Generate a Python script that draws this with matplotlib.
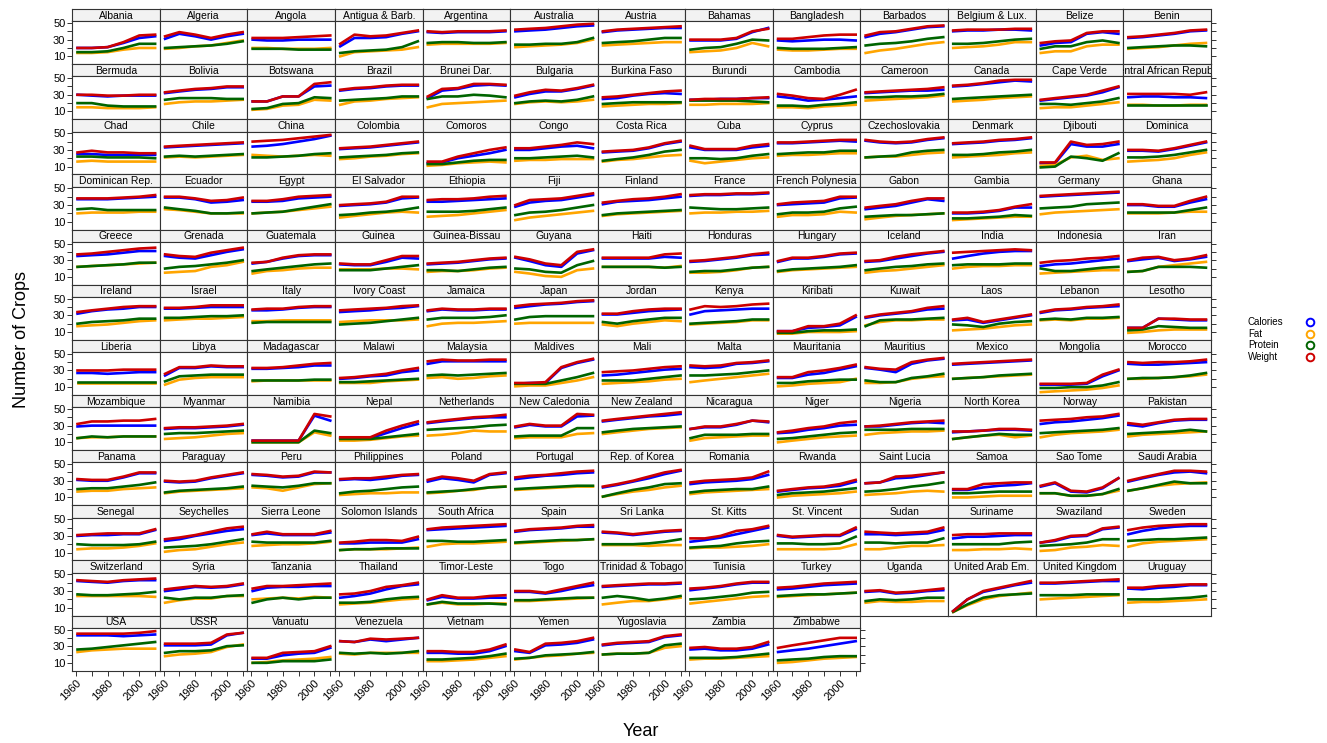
import matplotlib
matplotlib.use("Agg")
import matplotlib.pyplot as plt
from matplotlib.lines import Line2D

plt.rcParams['font.family'] = ['Liberation Sans', 'DejaVu Sans']

YEARS = [1961, 1970, 1980, 1990, 2000, 2010]

COUNTRIES = [
    "Albania", "Algeria", "Angola", "Antigua & Barb.", "Argentina", "Australia", "Austria",
    "Bahamas", "Bangladesh", "Barbados", "Belgium & Lux.", "Belize", "Benin",
    "Bermuda", "Bolivia", "Botswana", "Brazil", "Brunei Dar.", "Bulgaria", "Burkina Faso",
    "Burundi", "Cambodia", "Cameroon", "Canada", "Cape Verde", "Central African Republic",
    "Chad", "Chile", "China", "Colombia", "Comoros", "Congo", "Costa Rica", "Cuba", "Cyprus",
    "Czechoslovakia", "Denmark", "Djibouti", "Dominica",
    "Dominican Rep.", "Ecuador", "Egypt", "El Salvador", "Ethiopia", "Fiji", "Finland", "France",
    "French Polynesia", "Gabon", "Gambia", "Germany", "Ghana",
    "Greece", "Grenada", "Guatemala", "Guinea", "Guinea-Bissau", "Guyana", "Haiti", "Honduras",
    "Hungary", "Iceland", "India", "Indonesia", "Iran",
    "Ireland", "Israel", "Italy", "Ivory Coast", "Jamaica", "Japan", "Jordan", "Kenya", "Kiribati",
    "Kuwait", "Laos", "Lebanon", "Lesotho",
    "Liberia", "Libya", "Madagascar", "Malawi", "Malaysia", "Maldives", "Mali", "Malta",
    "Mauritania", "Mauritius", "Mexico", "Mongolia", "Morocco",
    "Mozambique", "Myanmar", "Namibia", "Nepal", "Netherlands", "New Caledonia", "New Zealand",
    "Nicaragua", "Niger", "Nigeria", "North Korea", "Norway", "Pakistan",
    "Panama", "Paraguay", "Peru", "Philippines", "Poland", "Portugal", "Rep. of Korea", "Romania",
    "Rwanda", "Saint Lucia", "Samoa", "Sao Tome", "Saudi Arabia",
    "Senegal", "Seychelles", "Sierra Leone", "Solomon Islands", "South Africa", "Spain",
    "Sri Lanka", "St. Kitts", "St. Vincent", "Sudan", "Suriname", "Swaziland", "Sweden",
    "Switzerland", "Syria", "Tanzania", "Thailand", "Timor-Leste", "Togo", "Trinidad & Tobago",
    "Tunisia", "Turkey", "Uganda", "United Arab Em.", "United Kingdom", "Uruguay",
    "USA", "USSR", "Vanuatu", "Venezuela", "Vietnam", "Yemen", "Yugoslavia", "Zambia", "Zimbabwe",
]

CALORIES = [
    [20,20,21,26,32,34], [31,37,34,30,34,37], [30,29,29,30,30,30], [22,32,32,33,37,40],
    [39,38,39,39,39,40], [40,41,42,44,46,47], [39,41,42,43,44,44], [29,29,29,31,39,44],
    [29,28,29,30,30,29], [33,37,39,42,45,46], [40,41,41,42,42,41], [23,26,27,37,39,37],
    [32,33,35,37,40,41],
    [30,29,28,29,29,29], [32,34,36,37,39,39], [22,22,28,28,40,41], [35,37,38,40,41,41],
    [26,35,37,41,42,41], [27,31,34,34,37,41], [25,26,29,31,32,31], [24,24,25,25,26,26],
    [28,26,23,24,26,28], [32,33,34,35,35,36], [40,41,43,45,47,46], [23,25,27,29,33,39],
    [27,28,28,27,27,26],
    [25,25,24,24,24,24], [33,34,35,36,37,38], [34,35,37,40,43,47], [31,32,33,35,37,39],
    [14,15,20,23,26,30], [30,30,32,34,35,32], [27,28,29,32,37,40], [33,30,30,30,33,35],
    [38,38,39,40,41,40], [41,39,38,39,42,44], [37,38,39,41,42,44], [14,14,37,34,34,37],
    [29,29,28,31,35,39],
    [37,37,37,38,39,40], [39,39,37,33,34,36], [34,34,35,38,39,40], [29,30,31,33,38,39],
    [34,34,35,36,37,38], [28,33,35,36,39,42], [31,34,35,36,38,40], [41,42,42,43,43,44],
    [30,31,32,33,38,39], [25,27,29,33,37,35], [20,20,21,23,27,27], [40,41,42,43,44,45],
    [30,30,28,28,33,37],
    [35,36,37,39,41,41], [35,33,32,36,40,43], [26,28,32,35,36,36], [25,24,24,28,33,32],
    [25,26,27,29,31,32], [33,29,24,22,38,42], [32,32,32,32,34,33], [28,29,31,33,36,37],
    [28,32,32,34,37,38], [28,29,32,35,38,40], [32,35,38,40,41,41], [23,25,26,28,30,32],
    [29,31,33,29,31,34],
    [32,35,37,38,40,40], [38,38,39,40,40,40], [36,36,37,39,40,40], [34,35,36,38,39,41],
    [35,37,36,36,37,37], [39,41,43,44,46,47], [31,31,33,35,36,37], [31,35,36,37,38,38],
    [11,11,15,16,18,28], [27,30,32,34,37,38], [24,25,21,24,27,30], [33,36,37,39,40,41],
    [15,15,26,25,24,24],
    [27,27,26,27,28,28], [24,33,33,35,34,34], [32,32,33,34,36,36], [20,21,23,24,28,30],
    [38,41,41,41,41,41], [14,15,15,33,39,43], [24,25,27,29,31,32], [34,33,34,38,39,41],
    [21,21,25,27,31,35], [33,31,28,38,42,44], [37,38,39,40,41,42], [13,13,13,14,23,30],
    [38,37,37,38,39,40],
    [29,30,30,30,30,30], [26,27,27,28,29,31], [12,12,12,12,42,36], [15,15,15,21,27,32],
    [33,35,37,39,40,40], [28,31,29,29,41,42], [35,37,39,41,42,44], [26,28,28,31,36,34],
    [21,22,25,27,30,31], [29,29,31,33,34,33], [22,23,24,25,25,24], [32,34,35,37,39,42],
    [31,29,33,36,37,37],
    [31,30,30,34,39,39], [29,28,29,33,36,39], [37,36,34,35,40,40], [31,32,31,33,36,37],
    [29,33,31,28,37,39], [32,34,36,37,39,40], [22,25,29,33,38,42], [26,28,29,30,32,37],
    [17,19,21,22,24,29], [27,28,33,34,37,40], [19,19,22,24,25,27], [23,27,17,16,21,33],
    [29,33,37,40,41,39],
    [30,31,31,32,32,37], [24,26,30,33,36,38], [31,33,31,31,31,34], [21,21,22,22,22,26],
    [37,38,39,40,41,42], [35,37,38,39,41,41], [34,33,31,33,35,36], [23,25,28,32,36,40],
    [30,28,29,30,30,38], [32,32,31,32,33,37], [27,29,29,30,31,31], [22,24,29,30,38,40],
    [32,36,39,41,42,42],
    [42,41,40,42,43,43], [30,32,35,34,35,38], [30,34,35,35,36,36], [22,24,27,32,36,38],
    [19,23,21,21,22,22], [29,29,27,30,34,37], [35,36,37,38,38,39], [31,33,35,38,40,40],
    [32,33,35,37,38,39], [29,30,27,28,30,31], [6,20,29,33,37,40], [39,39,40,41,42,42],
    [33,32,34,35,37,37],
    [43,43,43,42,43,44], [31,31,31,32,43,46], [15,15,19,21,22,28], [36,35,38,36,38,40],
    [22,22,21,21,24,30], [24,22,31,32,34,38], [31,33,34,35,41,43], [26,27,25,25,27,32],
    [23,25,27,30,33,36],
]

FAT = [
    [14,14,15,18,20,20], [19,20,22,23,26,29], [20,20,19,19,19,20], [10,15,16,17,18,21],
    [24,25,25,25,25,26], [21,22,23,24,26,30], [23,24,25,26,27,27], [15,16,17,20,26,22],
    [18,17,17,18,19,19], [14,17,19,22,25,27], [20,21,22,24,27,27], [14,16,16,22,24,24],
    [19,20,21,23,25,26],
    [15,15,14,14,14,15], [19,21,22,22,23,24], [12,13,17,18,24,23], [18,22,23,25,26,27],
    [15,19,20,21,22,23], [19,21,22,21,22,24], [16,17,18,19,19,20], [18,18,19,19,19,20],
    [15,15,14,16,17,18], [23,24,25,26,27,29], [22,23,24,26,27,28], [14,15,15,17,19,21],
    [18,18,17,17,18,18],
    [16,17,16,16,16,16], [21,22,21,22,23,24], [24,23,22,23,24,23], [19,20,22,23,25,26],
    [11,12,14,15,16,15], [17,18,18,19,19,19], [16,18,19,21,23,24], [17,14,16,18,20,21],
    [23,24,24,25,26,26], [21,22,22,24,26,27], [21,22,23,24,26,27], [11,12,21,23,18,20],
    [16,17,18,20,24,27],
    [20,21,21,21,22,22], [25,24,22,20,20,20], [20,21,22,24,26,28], [15,17,19,21,22,21],
    [16,17,18,20,22,24], [12,15,17,19,21,23], [17,19,20,21,22,23], [20,21,21,22,22,23],
    [16,18,18,19,22,21], [13,15,17,18,19,20], [12,13,14,15,16,16], [19,21,22,23,24,25],
    [20,20,20,21,22,22],
    [22,23,24,25,26,27], [15,16,17,22,24,28], [14,17,18,20,21,21], [19,19,19,20,20,19],
    [16,17,17,18,20,21], [16,14,11,10,18,20], [22,22,22,22,21,23], [15,15,16,18,21,22],
    [16,18,19,20,21,22], [15,17,18,20,22,24], [20,22,23,23,24,24], [14,15,16,17,18,18],
    [16,17,22,24,26,28],
    [17,18,19,21,23,24], [24,25,26,26,27,28], [23,23,24,24,24,24], [22,23,24,24,24,25],
    [17,20,21,21,22,23], [20,21,21,21,21,21], [19,17,20,22,24,23], [19,20,21,22,24,24],
    [8,8,10,10,10,11], [18,22,24,24,25,25], [12,13,14,16,18,19], [24,25,24,26,26,27],
    [9,10,12,13,13,13],
    [15,15,15,15,15,15], [13,19,21,22,22,22], [17,18,18,18,18,18], [15,15,15,17,18,19],
    [21,22,20,21,23,24], [11,12,12,15,18,22], [14,15,16,17,19,20], [16,18,20,22,24,26],
    [11,12,14,15,16,20], [15,15,16,20,22,23], [20,21,22,23,24,25], [4,5,6,7,9,12],
    [20,20,21,22,23,25],
    [15,16,16,17,17,17], [14,15,16,18,20,21], [10,10,10,10,22,18], [12,12,13,15,17,18],
    [18,19,21,24,23,23], [15,16,16,16,20,21], [20,22,24,26,27,28], [12,15,16,17,18,18],
    [10,12,14,16,17,18], [19,21,22,23,23,24], [14,16,18,19,16,18], [16,19,21,22,23,25],
    [17,19,20,21,22,23],
    [17,18,18,20,21,22], [15,17,18,19,20,21], [22,21,18,22,26,27], [13,14,15,15,16,16],
    [15,16,18,19,22,23], [19,20,21,22,23,23], [11,14,17,19,22,24], [14,16,17,18,19,20],
    [10,12,13,14,15,17], [13,14,15,17,18,17], [10,10,11,12,12,12], [15,15,12,12,14,18],
    [18,21,24,26,27,28],
    [14,15,15,16,18,21], [11,13,14,17,20,22], [18,19,20,20,21,23], [13,14,14,14,15,16],
    [17,20,21,21,22,23], [21,22,23,24,25,26], [19,19,19,18,19,19], [15,16,16,17,18,20],
    [14,14,14,14,15,20], [14,14,16,18,18,19], [13,13,14,14,15,14], [12,13,16,17,19,18],
    [17,21,23,24,25,26],
    [24,24,24,24,24,23], [16,19,21,21,24,24], [20,21,22,21,23,22], [14,15,16,18,20,21],
    [14,16,14,14,15,15], [18,18,19,20,21,22], [14,16,18,18,20,22], [15,17,19,21,23,24],
    [23,24,25,26,27,28], [16,18,17,17,18,18], [5,13,20,24,26,28], [20,21,22,23,24,25],
    [16,17,17,18,19,20],
    [23,25,26,27,27,27], [18,20,21,23,29,32], [10,11,13,14,15,17], [21,20,22,22,22,22],
    [12,12,13,14,16,18], [14,16,18,19,21,22], [20,21,21,22,28,30], [14,15,15,16,17,18],
    [10,11,13,15,16,17],
]

PROTEIN = [
    [15,15,16,20,25,25], [20,21,22,23,25,28], [19,19,19,18,18,18], [14,16,17,18,21,28],
    [26,27,27,26,26,27], [24,24,25,25,27,32], [26,27,28,30,32,32], [18,20,21,25,30,29],
    [20,19,19,19,20,21], [23,25,26,28,31,33], [25,25,26,28,30,31], [19,22,22,27,29,26],
    [20,21,22,23,23,22],
    [20,20,17,16,16,16], [24,26,26,26,25,25], [13,14,19,20,27,26], [23,24,25,26,28,28],
    [25,28,28,30,29,27], [20,22,23,22,24,28], [19,20,21,21,21,21], [23,23,23,23,22,21],
    [17,17,16,18,19,21], [27,27,28,28,29,31], [25,26,27,28,29,30], [19,19,18,20,22,26],
    [18,18,18,18,18,18],
    [22,22,21,21,21,20], [22,23,22,23,24,25], [21,21,22,23,25,26], [21,22,23,24,26,27],
    [13,13,15,17,18,18], [20,20,21,22,23,21], [17,19,21,24,28,30], [20,20,19,20,23,25],
    [25,26,27,27,29,29], [21,22,23,27,29,30], [24,24,25,27,28,30], [9,10,22,20,17,26],
    [21,21,22,24,27,30],
    [25,26,24,24,24,24], [27,25,23,20,20,21], [20,21,22,25,28,31], [18,19,21,22,24,27],
    [22,22,22,23,25,27], [18,21,22,24,27,30], [18,20,21,22,23,24], [27,26,25,25,26,27],
    [19,21,21,22,26,28], [16,17,18,18,19,20], [14,14,15,16,18,17], [26,27,28,31,32,33],
    [21,21,21,21,24,27],
    [22,23,24,25,27,27], [20,22,23,25,27,30], [17,19,21,23,25,26], [18,18,18,20,22,24],
    [18,18,17,19,21,22], [20,19,16,15,24,29], [22,22,22,22,21,22], [16,17,17,19,21,22],
    [17,19,20,21,22,24], [18,20,22,23,25,26], [24,25,25,25,26,26], [20,17,17,19,21,22],
    [16,17,22,22,22,21],
    [20,22,23,24,26,26], [27,27,28,29,29,30], [21,22,22,22,22,22], [19,20,21,23,25,27],
    [25,27,27,27,28,30], [25,28,29,29,29,29], [22,20,23,25,27,27], [20,21,22,23,25,25],
    [9,9,11,12,12,13], [17,24,25,25,26,27], [19,18,16,20,22,23], [25,26,25,27,27,28],
    [12,13,17,16,15,15],
    [16,16,16,16,16,16], [17,23,24,25,25,25], [18,18,18,18,19,19], [16,16,17,18,19,20],
    [24,25,24,25,26,27], [14,14,14,18,22,27], [18,18,18,20,22,24], [24,24,25,26,28,30],
    [15,15,17,18,19,19], [18,16,16,21,23,26], [20,21,22,24,25,26], [9,9,10,10,12,16],
    [20,21,21,22,24,27],
    [15,17,16,17,17,17], [20,21,21,22,23,24], [10,10,10,10,24,21], [14,14,14,16,18,20],
    [25,26,27,28,30,31], [17,18,18,18,27,27], [22,24,26,27,28,29], [15,19,19,19,20,20],
    [14,15,17,19,21,22], [25,25,25,26,26,26], [14,16,18,20,19,19], [21,22,23,24,25,27],
    [20,21,22,23,25,23],
    [20,21,21,23,25,28], [16,18,19,20,21,23], [24,23,22,24,27,27], [15,17,18,20,22,23],
    [16,17,18,20,22,23], [20,21,22,23,24,24], [11,15,19,22,26,27], [16,18,19,20,20,23],
    [13,15,16,17,19,21], [17,18,20,23,25,28], [15,15,16,17,17,17], [15,15,12,12,14,20],
    [18,21,25,29,27,27],
    [20,19,19,19,20,23], [16,17,18,20,23,26], [23,22,22,22,22,24], [13,14,14,15,15,15],
    [24,24,23,23,24,25], [22,23,24,25,25,26], [20,20,20,21,23,26], [16,17,18,21,23,24],
    [21,21,20,20,21,29], [22,22,21,22,22,27], [20,20,20,20,22,23], [18,19,20,22,26,26],
    [24,25,26,26,27,28],
    [26,25,25,26,27,29], [22,20,22,22,24,25], [16,20,22,20,22,22], [16,16,17,20,22,23],
    [14,17,15,15,15,14], [19,19,20,21,22,22], [22,24,22,19,21,24], [20,21,23,25,28,29],
    [24,25,26,26,27,28], [18,20,19,20,22,22], [5,14,22,25,26,27], [25,25,25,26,26,26],
    [20,20,20,21,22,24],
    [26,27,29,31,33,35], [22,24,24,25,30,31], [10,10,12,12,12,14], [22,21,22,21,22,24],
    [14,14,15,16,18,21], [15,16,19,20,21,23], [20,21,21,22,31,33], [16,16,16,17,19,21],
    [13,14,15,17,18,18],
]

WEIGHT = [
    [20,20,21,27,35,36], [34,39,36,32,36,39], [32,32,32,33,34,35], [25,36,34,35,38,41],
    [40,39,40,40,40,41], [42,43,44,46,48,49], [40,42,43,44,45,46], [30,30,30,32,40,43],
    [31,31,33,35,36,36], [35,39,40,43,46,47], [41,42,42,42,43,43], [26,28,29,38,40,40],
    [33,34,36,38,41,42],
    [30,30,29,29,30,30], [33,35,37,38,40,40], [22,22,28,28,43,45], [36,38,39,41,42,42],
    [28,37,38,43,43,42], [29,33,36,35,38,42], [27,28,30,32,34,35], [24,25,25,25,26,27],
    [31,29,26,25,30,36], [33,34,35,36,37,39], [41,42,44,47,48,48], [24,26,28,30,35,40],
    [31,31,31,31,30,33],
    [27,29,27,27,26,26], [34,35,36,37,38,39], [40,41,42,44,46,48], [32,33,34,36,38,40],
    [16,16,22,26,30,33], [32,32,34,36,39,37], [28,29,30,33,38,41], [35,31,31,31,35,37],
    [39,39,40,41,42,42], [42,40,39,40,43,45], [38,39,40,42,43,45], [15,15,40,36,37,40],
    [30,30,29,32,36,40],
    [38,38,38,39,40,42], [40,40,38,35,36,39], [35,35,37,40,41,42], [30,31,32,34,40,40],
    [36,37,37,38,40,41], [30,36,37,38,41,44], [33,35,37,38,40,43], [42,43,43,44,44,45],
    [31,33,34,35,40,40], [27,29,31,35,38,38], [21,21,22,24,28,31], [41,42,43,44,45,46],
    [31,31,29,29,35,40],
    [37,38,40,42,44,45], [37,35,34,39,42,45], [27,28,33,36,37,37], [26,25,25,30,35,35],
    [26,27,28,30,32,33], [34,31,26,24,40,43], [33,33,33,33,37,38], [29,30,32,34,37,39],
    [29,33,33,35,38,39], [29,30,34,37,39,41], [39,40,41,42,43,42], [27,29,30,32,33,35],
    [30,33,34,30,32,36],
    [34,36,38,40,41,41], [39,39,40,42,42,42], [37,38,38,40,41,41], [36,37,38,39,41,42],
    [36,38,37,37,38,38], [41,43,44,45,47,48], [32,32,35,37,38,38], [37,41,40,41,43,44],
    [11,11,17,17,20,30], [28,31,33,35,39,41], [25,27,22,25,28,31], [34,37,38,40,41,43],
    [15,15,26,26,25,25],
    [30,30,30,31,31,31], [26,34,34,36,35,35], [33,33,34,36,38,39], [21,22,24,26,30,33],
    [41,43,42,42,43,43], [15,15,16,34,40,44], [28,29,30,32,34,35], [36,35,36,39,40,42],
    [22,22,28,30,33,37], [34,32,31,40,43,45], [38,39,40,41,42,43], [14,14,14,15,25,31],
    [40,39,40,40,41,43],
    [32,35,35,36,36,38], [27,28,28,29,30,32], [12,12,12,12,44,41], [16,16,16,24,30,35],
    [34,36,38,40,41,43], [29,32,30,30,44,43], [36,38,40,42,44,46], [26,29,29,32,36,35],
    [22,24,27,29,33,35], [29,30,32,34,35,36], [23,23,24,26,26,25], [36,37,38,40,41,44],
    [33,31,34,37,38,38],
    [32,31,31,35,40,40], [30,29,30,34,37,40], [38,37,35,36,41,40], [32,33,33,35,37,38],
    [31,35,33,30,38,40], [34,36,37,39,41,42], [23,26,30,35,40,43], [28,30,31,32,34,41],
    [18,20,22,23,26,31], [27,28,35,36,38,40], [20,20,26,27,28,28], [24,28,18,17,22,33],
    [30,34,38,42,42,41],
    [31,32,33,33,33,38], [26,28,31,35,39,41], [32,35,32,32,32,36], [22,23,25,25,24,29],
    [38,40,41,42,43,44], [36,38,39,40,42,43], [35,34,32,34,36,37], [27,27,30,36,38,42],
    [31,29,30,31,31,40], [35,34,33,34,35,40], [31,32,32,33,33,33], [22,25,30,31,39,41],
    [37,40,42,43,44,44],
    [43,42,41,43,44,45], [32,34,36,35,36,39], [33,36,36,37,38,39], [26,27,30,35,37,40],
    [20,25,22,22,24,25], [30,30,28,32,36,40], [36,37,38,39,39,40], [33,34,36,39,41,41],
    [34,35,37,39,40,41], [30,31,28,29,31,33], [6,20,30,34,38,42], [40,40,41,42,43,44],
    [34,34,36,37,38,38],
    [45,45,45,45,46,48], [33,33,33,34,44,46], [16,16,22,23,24,30], [36,35,39,38,39,40],
    [24,24,23,23,26,32], [26,23,33,34,36,40], [32,34,35,36,42,44], [28,29,27,27,29,35],
    [28,31,34,37,40,40],
]

LABELS = ["Calories", "Fat", "Protein", "Weight"]
COLORS = ["#0000ff", "#ffa500", "#006400", "#cd0000"]
SERIES = [CALORIES, FAT, PROTEIN, WEIGHT]

W, H = 1327, 743
NCOL, NROW = 13, 12
LEFT, TOP = 72.3, 9.0          # pixel position of the first strip
PW, RH, SH = 87.57, 55.14, 12.3  # panel width, row height, strip height
EDGE = "#333333"


def box(x, y, w, h):
    """pixel box measured from the top-left corner -> figure fraction rect"""
    return [x / W, 1 - (y + h) / H, w / W, h / H]


fig = plt.figure(figsize=(W / 100, H / 100), dpi=100)

n = len(COUNTRIES)
for i, name in enumerate(COUNTRIES):
    r, c = divmod(i, NCOL)
    x = LEFT + c * PW
    y = TOP + r * RH

    # strip with the country name
    strip = fig.add_axes(box(x, y, PW, SH))
    strip.set_facecolor("#f2f2f2")
    strip.set_xticks([])
    strip.set_yticks([])
    for s in strip.spines.values():
        s.set_color(EDGE)
        s.set_linewidth(0.8)
    strip.text(0.5, 0.45, name, transform=strip.transAxes, ha="center", va="center",
               fontsize=7.5, clip_on=True)

    ax = fig.add_axes(box(x, y + SH, PW, RH - SH))
    for data, color in zip(SERIES, COLORS):
        ax.plot(YEARS, data[i], color=color, lw=1.9, solid_joinstyle="round")
    ax.set_xlim(1957.7, 2013)
    ax.set_ylim(0.6, 52)
    for s in ax.spines.values():
        s.set_color(EDGE)
        s.set_linewidth(0.8)

    ax.set_xticks(range(1960, 2011, 10))
    ax.set_xticklabels(["1960", "", "1980", "", "2000", ""])
    ax.set_yticks(range(10, 51, 10))
    ax.set_yticklabels(["10", "", "30", "", "50"])
    bottom = r == NROW - 1
    right = c == NCOL - 1 or i == n - 1
    ax.tick_params(axis="both", direction="out", length=3.5, width=0.7, color=EDGE,
                   labelsize=8, pad=1.5, top=False, bottom=bottom, labelbottom=bottom,
                   left=c == 0, labelleft=c == 0, right=right, labelright=False)
    if bottom:
        for lab in ax.get_xticklabels():
            lab.set_rotation(45)
            lab.set_ha("right")
            lab.set_rotation_mode("anchor")

# key on the right
for k, (lab, col) in enumerate(zip(LABELS, COLORS)):
    yy = 1 - (322 + k * 11.7) / H
    fig.text(1248 / W, yy, lab, fontsize=7, ha="left", va="center")
    fig.add_artist(Line2D([1310 / W], [yy], marker="o", ms=5.5, mfc="none", mec=col,
                          mew=1.4, transform=fig.transFigure))

fig.text(22 / W, 1 - 340 / H, "Number of Crops", rotation=90, fontsize=13,
         ha="center", va="center")
fig.text(641 / W, 1 - 731 / H, "Year", fontsize=13, ha="center", va="center")

fig.savefig("out.png", dpi=100, facecolor="white")
